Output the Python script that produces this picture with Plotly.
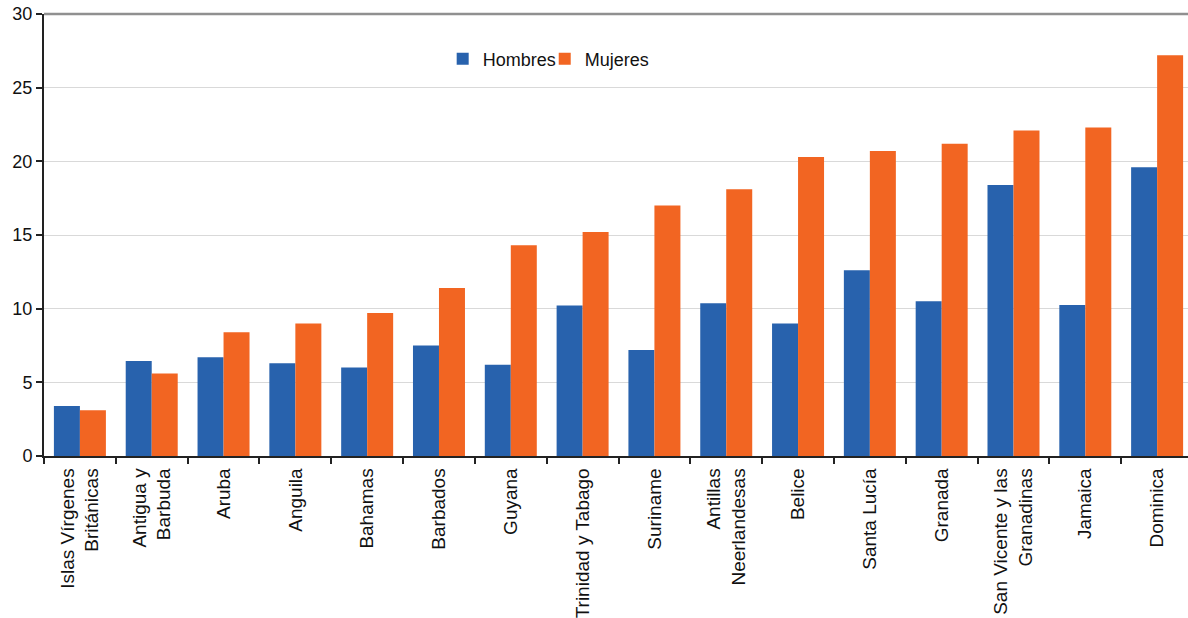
import plotly.graph_objects as go

categories = ["Islas Vírgenes<br>Británicas", "Antigua y<br>Barbuda", "Aruba", "Anguila", "Bahamas",
              "Barbados", "Guyana", "Trinidad y Tabago", "Suriname", "Antillas<br>Neerlandesas",
              "Belice", "Santa Lucía", "Granada", "San Vicente y las<br>Granadinas", "Jamaica", "Dominica"]
hombres = [3.4, 6.45, 6.7, 6.3, 6.0, 7.5, 6.2, 10.22, 7.2, 10.36, 9.0, 12.6, 10.5, 18.4, 10.25, 19.6]
mujeres = [3.1, 5.6, 8.4, 9.0, 9.7, 11.4, 14.3, 15.2, 17.0, 18.1, 20.3, 20.7, 21.2, 22.1, 22.3, 27.2]
y_ticks = [0, 5, 10, 15, 20, 25, 30]

BLUE = "#2862ad"
ORANGE = "#f26522"
FONT = "Liberation Sans, Arial, sans-serif"

fig = go.Figure()
fig.add_trace(go.Bar(x=categories, y=hombres, name="Hombres", legend="legend", showlegend=True,
                     marker=dict(color=BLUE, line=dict(width=0))))
fig.add_trace(go.Bar(x=categories, y=mujeres, name="Mujeres", legend="legend2", showlegend=True,
                     marker=dict(color=ORANGE, line=dict(width=0))))

legend_common = dict(orientation="h", y=0.898, xanchor="left", yanchor="middle",
                     font=dict(size=18, family=FONT, color="#111111"), itemwidth=30,
                     bgcolor="rgba(0,0,0,0)", visible=True)

fig.update_layout(
    width=1188, height=618,
    margin=dict(l=44, r=0, t=14, b=162),
    showlegend=True,
    barmode="group", bargap=0.276, bargroupgap=0,
    plot_bgcolor="white", paper_bgcolor="white",
    font=dict(family=FONT, size=18, color="#111111"),
    legend=dict(x=0.3485, **legend_common),
    legend2=dict(x=0.4377, **legend_common),
    xaxis=dict(type="category", range=[-0.5, 15.43], tickangle=-90, tickson="boundaries",
               ticks="outside", ticklen=6, tickcolor="#222", tickwidth=1.5, showline=True,
               linecolor="#222", linewidth=1.5, showgrid=False, tickfont=dict(size=19),
               ticklabelstandoff=3, automargin=False),
    yaxis=dict(range=[0, 30], tickvals=y_ticks, ticks="outside", ticklen=6, tickcolor="#222",
               tickwidth=1.5, showline=True, linecolor="#222", linewidth=2,
               gridcolor="#d9d9d9", gridwidth=1, zeroline=False, tickfont=dict(size=18),
               automargin=False),
    shapes=[dict(type="line", xref="paper", yref="paper", x0=0, x1=1, y0=1, y1=1,
                 line=dict(color="#909090", width=2.5))],
)

fig.write_html("out.html", config={"displayModeBar": False},
               post_script="document.body.style.margin='0';")
